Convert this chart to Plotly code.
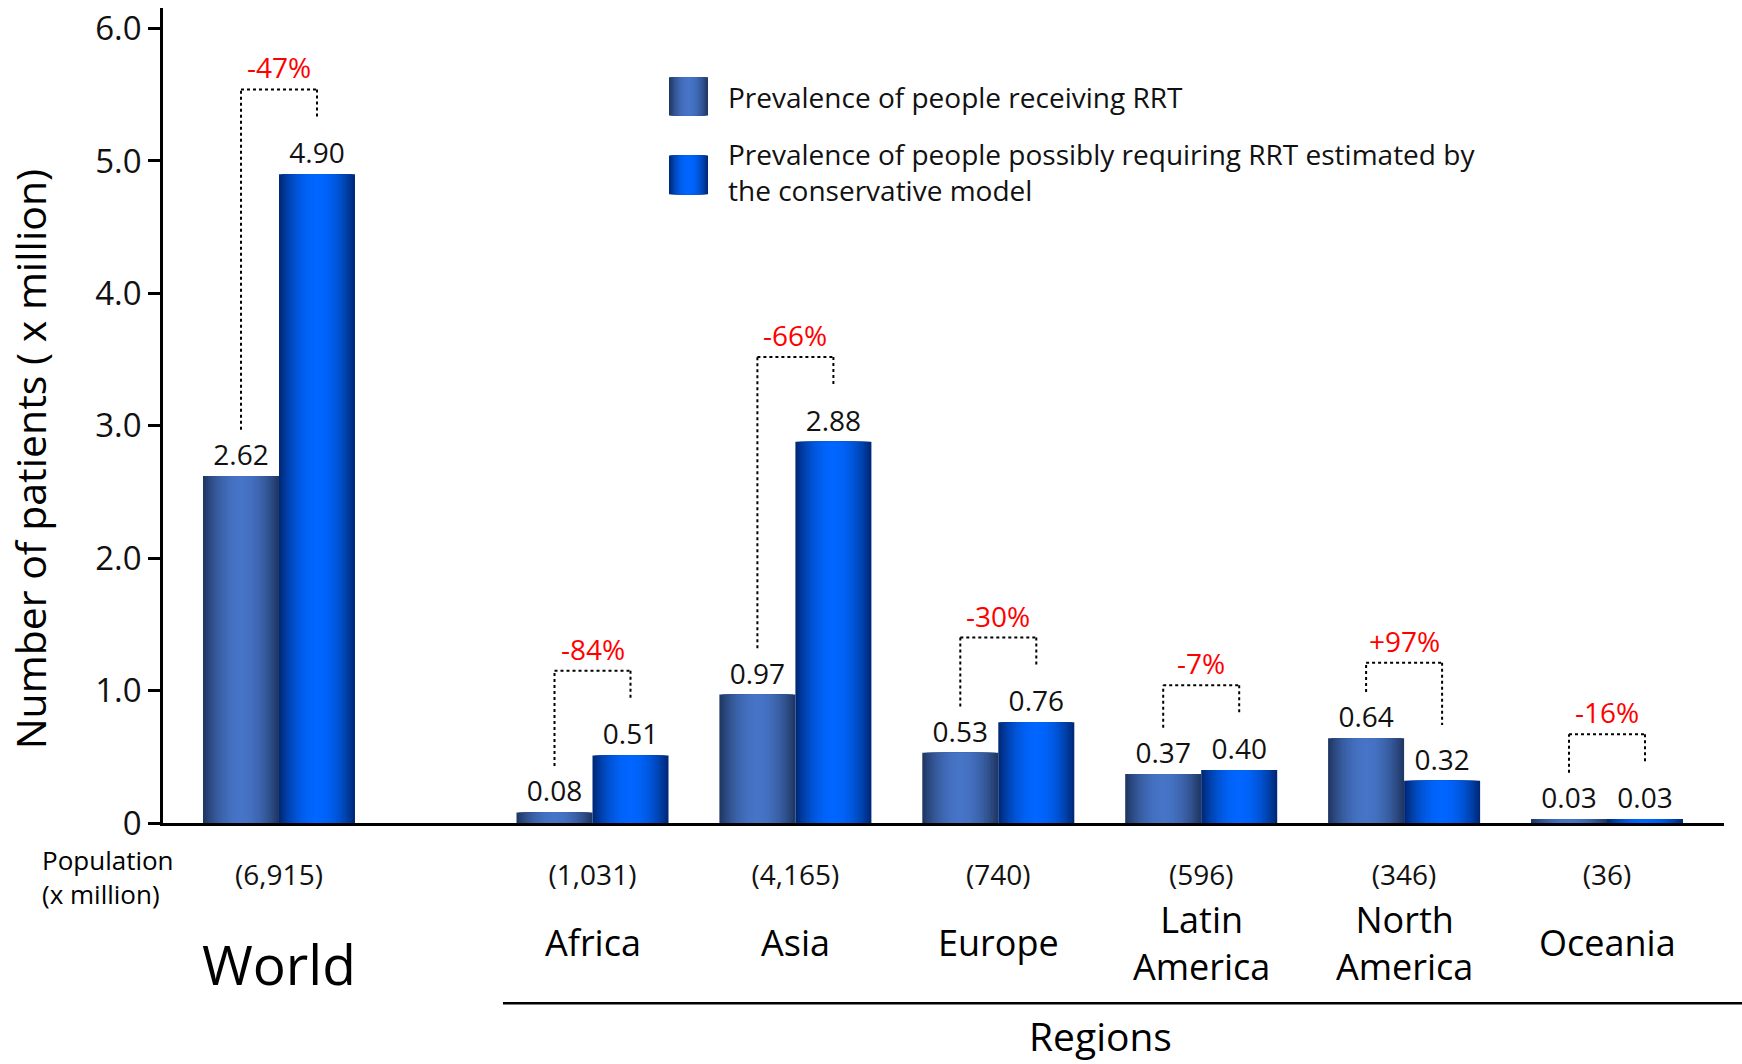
import plotly.graph_objects as go

# ---------------- data ----------------
world_cat = ["World"]
world_rrt = [2.62]
world_req = [4.90]
world_pop = ["(6,915)"]
world_change = ["-47%"]

regions = ["Africa", "Asia", "Europe", "Latin America", "North America", "Oceania"]
region_names = ["Africa", "Asia", "Europe", "Latin<br>America", "North<br>America", "Oceania"]
region_rrt = [0.08, 0.97, 0.53, 0.37, 0.64, 0.03]
region_req = [0.51, 2.88, 0.76, 0.40, 0.32, 0.03]
region_pop = ["(1,031)", "(4,165)", "(740)", "(596)", "(346)", "(36)"]
region_change = ["-84%", "-66%", "-30%", "-7%", "+97%", "-16%"]

series_names = [
    "Prevalence of people receiving RRT",
    "Prevalence of people possibly requiring RRT estimated by<br>the conservative model",
]
y_tickvals = [0, 1, 2, 3, 4, 5, 6]
y_ticktext = ["0", "1.0", "2.0", "3.0", "4.0", "5.0", "6.0"]

# ---------------- layout constants ----------------
W, H = 1742, 1064
PL, PR, PT, PB = 163, 1724, 5, 823
FONT = "Open Sans, Lato, DejaVu Sans, sans-serif"
UNIT = 202.9          # px per category unit (x)
SPLIT = 440           # px where world panel meets region panel
WORLD_C = 279
REG0_C = 592.5
BAR_W = 0.3746
HALF = BAR_W / 2
N_LAYERS = 16
Y_TOP = (PB - PT) / 132.9


def px(x):
    return (x - PL) / (PR - PL)


def py(y):
    return (PB - y) / (PB - PT)


EDGE1, CENT1 = (30, 52, 94), (70, 116, 198)
EDGE2, CENT2 = (0, 38, 112), (0, 102, 255)


def layer_colors(edge, center, n):
    cols = []
    for k in range(n):
        d = 1 - (k + 0.5) / n
        f = d ** 2.0
        c = [round(center[i] + (edge[i] - center[i]) * f) for i in range(3)]
        cols.append(f"rgb({c[0]},{c[1]},{c[2]})")
    return cols


COLS = [layer_colors(EDGE1, CENT1, N_LAYERS), layer_colors(EDGE2, CENT2, N_LAYERS)]

fig = go.Figure()

panels = [
    ("x", "y", world_cat, world_rrt, world_req),
    ("x2", "y2", regions, region_rrt, region_req),
]
for xa, ya, cats, v1, v2 in panels:
    for s, (vals, sign) in enumerate([(v1, -1), (v2, 1)]):
        for k in range(N_LAYERS):
            w = BAR_W * (1 - k / N_LAYERS)
            kw = {}
            if k == 0:
                kw = dict(text=[f"{v:.2f}" for v in vals], textposition="outside",
                          textfont=dict(size=28, color="#111", family=FONT),
                          constraintext="none", cliponaxis=False)
            fig.add_trace(go.Bar(
                x=cats, y=vals, width=w, offset=sign * HALF - w / 2,
                marker=dict(color=COLS[s][k], line=dict(width=0)),
                xaxis=xa, yaxis=ya, showlegend=False,
                name=series_names[s].replace("<br>", " "),
                hoverinfo="skip" if k else "x+y+name", **kw))

# ---------------- brackets + percent labels ----------------
LEG1, LEG2, TOPPAD = 0.35, 0.42, 0.22
shapes = []
annotations = []
for xref, cats, v1, v2, labs in [("x", world_cat, world_rrt, world_req, world_change),
                                 ("x2", regions, region_rrt, region_req, region_change)]:
    for i, (a, b, lab) in enumerate(zip(v1, v2, labs)):
        l1, l2 = a + LEG1, b + LEG2
        top = max(l1, l2) + TOPPAD
        xl, xr = i - HALF, i + HALF
        line = dict(color="black", width=2, dash="dot")
        for (x0, y0, x1, y1) in [(xl, l1, xl, top), (xl, top, xr, top), (xr, top, xr, l2)]:
            shapes.append(dict(type="line", xref=xref, yref="y", x0=x0, y0=y0, x1=x1, y1=y1, line=line))
        annotations.append(dict(x=i, y=top, xref=xref, yref="y", text=lab, showarrow=False,
                                yanchor="bottom", yshift=1,
                                font=dict(size=28, color="#ff0000", family=FONT)))

# ---------------- category names ----------------
annotations.append(dict(x="World", y=py(964), xref="x", yref="paper", text="World", showarrow=False,
                        font=dict(size=55, color="black", family=FONT), yanchor="middle"))
for r, nm in zip(regions, region_names):
    annotations.append(dict(x=r, y=py(943), xref="x2", yref="paper", text=nm, showarrow=False,
                            font=dict(size=36, color="black", family=FONT), yanchor="middle"))
annotations.append(dict(x=px(1100), y=py(1036), xref="paper", yref="paper", text="Regions",
                        showarrow=False, xanchor="center",
                        font=dict(size=39, color="black", family=FONT), yanchor="middle"))
annotations.append(dict(x=px(40), y=py(877), xref="paper", yref="paper", text="Population<br>(x million)",
                        showarrow=False, xanchor="left", align="left", yanchor="middle",
                        font=dict(size=26, color="black", family=FONT)))
annotations.append(dict(x=px(30), y=py(458), xref="paper", yref="paper",
                        text="Number of patients ( x million)", textangle=-90, showarrow=False,
                        xanchor="center", yanchor="middle",
                        font=dict(size=41, color="black", family=FONT)))
shapes.append(dict(type="line", xref="paper", yref="paper", x0=px(503), x1=px(1745), y0=py(1004), y1=py(1004),
                   line=dict(color="black", width=2.5)))

# ---------------- custom legend ----------------
for s, (y0, y1, ty) in enumerate([(113, 74.5, 94), (192, 153, 170)]):
    x0, x1 = 669, 708
    for k in range(N_LAYERS):
        frac = 1 - k / N_LAYERS
        half = (x1 - x0) / 2 * frac
        c = (x0 + x1) / 2
        shapes.append(dict(type="rect", xref="paper", yref="paper", x0=px(c - half), x1=px(c + half),
                           y0=py(y0), y1=py(y1), fillcolor=COLS[s][k], line=dict(width=0), layer="above"))
    annotations.append(dict(x=px(726), y=py(ty), xref="paper", yref="paper", text=series_names[s],
                            showarrow=False, xanchor="left", align="left", yanchor="middle",
                            font=dict(size=28, color="#111", family=FONT)))

axis_common = dict(showline=True, linecolor="black", linewidth=2.5, showgrid=False, zeroline=False,
                   ticks="", tickfont=dict(size=28, color="#111", family=FONT), ticklabelstandoff=26)

fig.update_layout(
    width=W, height=H, autosize=False,
    margin=dict(l=PL, r=W - PR, t=PT, b=H - PB),
    plot_bgcolor="white", paper_bgcolor="white",
    barmode="overlay", showlegend=False,
    font=dict(family=FONT, color="black"),
    xaxis=dict(domain=[0, px(SPLIT)], range=[-(WORLD_C - PL) / UNIT, (SPLIT - WORLD_C) / UNIT],
               type="category", tickvals=world_cat, ticktext=world_pop, anchor="y", **axis_common),
    xaxis2=dict(domain=[px(SPLIT), 1], range=[-(REG0_C - SPLIT) / UNIT, 5 + (PR - (REG0_C + 5 * UNIT)) / UNIT],
                type="category", tickvals=regions, ticktext=region_pop, anchor="y2", **axis_common),
    yaxis=dict(range=[0, Y_TOP], tickvals=y_tickvals, ticktext=y_ticktext, showline=True, linecolor="black",
               linewidth=2.5, ticks="outside", ticklen=12, tickwidth=2.5, tickcolor="black",
               showgrid=False, zeroline=False, anchor="x",
               tickfont=dict(size=33, color="#111", family=FONT)),
    yaxis2=dict(matches="y", anchor="x2", visible=False, range=[0, Y_TOP]),
    shapes=shapes, annotations=annotations,
)

fig.write_html("out.html")
